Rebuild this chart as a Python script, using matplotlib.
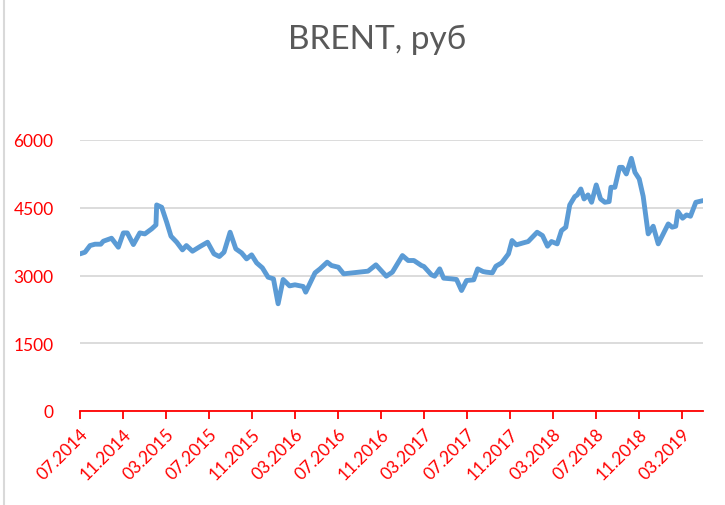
import matplotlib
matplotlib.use("Agg")
import matplotlib.pyplot as plt
from matplotlib.lines import Line2D

# BRENT price in rubles
dates = [
    "2014-07-01", "2014-07-15", "2014-07-29", "2014-08-13", "2014-08-29", "2014-09-06",
    "2014-09-29", "2014-10-18", "2014-11-02", "2014-11-13", "2014-11-30", "2014-12-18",
    "2015-01-02", "2015-01-21", "2015-02-03", "2015-02-05", "2015-02-19", "2015-03-03",
    "2015-03-15", "2015-03-31", "2015-04-17", "2015-04-28", "2015-05-15", "2015-06-06",
    "2015-06-27", "2015-07-15", "2015-07-30", "2015-08-13", "2015-08-30", "2015-09-16",
    "2015-10-02", "2015-10-16", "2015-10-30", "2015-11-14", "2015-11-30", "2015-12-16",
    "2015-12-31", "2016-01-14", "2016-01-28", "2016-02-16", "2016-03-01", "2016-03-24",
    "2016-04-01", "2016-04-27", "2016-05-11", "2016-06-01", "2016-06-13", "2016-07-02",
    "2016-07-17", "2016-09-25", "2016-10-17", "2016-11-16", "2016-12-03", "2017-01-01",
    "2017-01-17", "2017-02-03", "2017-02-24", "2017-03-01", "2017-03-22", "2017-04-01",
    "2017-04-15", "2017-04-26", "2017-05-18", "2017-06-02", "2017-06-16", "2017-06-30",
    "2017-07-20", "2017-07-31", "2017-08-16", "2017-08-25", "2017-09-12", "2017-09-22",
    "2017-10-08", "2017-10-27", "2017-11-07", "2017-11-19", "2017-12-08", "2017-12-22",
    "2018-01-17", "2018-02-02", "2018-02-16", "2018-02-27", "2018-03-13", "2018-03-25",
    "2018-04-07", "2018-04-18", "2018-05-02", "2018-05-09", "2018-05-19", "2018-05-28",
    "2018-06-09", "2018-06-19", "2018-07-02", "2018-07-14", "2018-07-26", "2018-08-08",
    "2018-08-13", "2018-08-24", "2018-09-07", "2018-09-15", "2018-09-26", "2018-10-10",
    "2018-10-20", "2018-11-02", "2018-11-13", "2018-11-27", "2018-12-11", "2018-12-25",
    "2019-01-09", "2019-01-23", "2019-02-04", "2019-02-14", "2019-02-20", "2019-03-03",
    "2019-03-14", "2019-03-25", "2019-04-10", "2019-04-30",
]
prices = [
    3479, 3516, 3663, 3693, 3693, 3759,
    3825, 3626, 3943, 3943, 3685, 3943,
    3921, 4032, 4120, 4562, 4511, 4179,
    3870, 3737, 3567, 3663, 3538, 3641,
    3737, 3479, 3420, 3516, 3958, 3590,
    3501, 3368, 3457, 3280, 3170, 2963,
    2926, 2374, 2912, 2770, 2794, 2757,
    2631, 3059, 3147, 3295, 3221, 3184,
    3037, 3096, 3236, 2985, 3074, 3442,
    3332, 3332, 3221, 3199, 3015, 2985,
    3147, 2941, 2926, 2912, 2668, 2889,
    2904, 3147, 3088, 3074, 3059, 3206,
    3280, 3479, 3774, 3678, 3722, 3752,
    3958, 3884, 3649, 3752, 3700, 3995,
    4069, 4562, 4747, 4784, 4916, 4695,
    4784, 4621, 5005, 4695, 4621, 4636,
    4953, 4953, 5395, 5395, 5248, 5594,
    5285, 5137, 4754, 3921, 4091, 3700,
    3921, 4142, 4069, 4091, 4415, 4268,
    4341, 4312, 4621, 4658,
]
tick_labels = ["07.2014", "11.2014", "03.2015", "07.2015", "11.2015", "03.2016",
               "07.2016", "11.2016", "03.2017", "07.2017", "11.2017", "03.2018",
               "07.2018", "11.2018", "03.2019"]
y_ticks = [0, 1500, 3000, 4500, 6000]


def month_pos(s):
    # months since 07.2014, like an Excel date axis with month base unit
    y, m, d = (int(p) for p in s.split("-"))
    return (y - 2014) * 12 + (m - 7) + (d - 1) / 30.0


x = [month_pos(d) for d in dates]
tick_pos = [month_pos(f"{t[3:]}-{t[:2]}-01") for t in tick_labels]

plt.rcParams["font.family"] = ["Lato", "DejaVu Sans"]
red = "#FF0000"

fig = plt.figure(figsize=(7.25, 5.06), dpi=100)
ax = fig.add_axes([80 / 725, 1 - 412 / 506, 623 / 725, 271 / 506])

ax.plot(x, prices, color="#5B9BD5", linewidth=3.5, solid_joinstyle="round",
        solid_capstyle="round", zorder=3)

ax.set_xlim(x[0], x[-1])
ax.set_ylim(0, 6000)
ax.set_yticks(y_ticks)
ax.set_yticklabels([str(v) for v in y_ticks], color=red, fontsize=12.5)
ax.tick_params(axis="y", length=0, pad=19)
ax.yaxis.grid(True, color="#D9D9D9", linewidth=1.3)
ax.set_axisbelow(True)

ax.set_xticks(tick_pos)
ax.set_xticklabels(tick_labels, rotation=45, ha="right", rotation_mode="anchor",
                   color=red, fontsize=12.5)
ax.tick_params(axis="x", direction="out", length=5.5, width=1.3, color=red, pad=5)

for side in ["left", "right", "top"]:
    ax.spines[side].set_visible(False)
ax.spines["bottom"].set_color(red)
ax.spines["bottom"].set_linewidth(1.3)
ax.spines["bottom"].set_zorder(4)

fig.text(377 / 725, 1 - 40 / 506, "BRENT, руб", ha="center", va="center",
         fontsize=24, color="#595959")

# thin chart-area border on the left edge
fig.add_artist(Line2D([4 / 725, 4 / 725], [0, 1], color="#D9D9D9", linewidth=1.5,
                      transform=fig.transFigure))

fig.savefig("out.png", dpi=100, facecolor="white")
